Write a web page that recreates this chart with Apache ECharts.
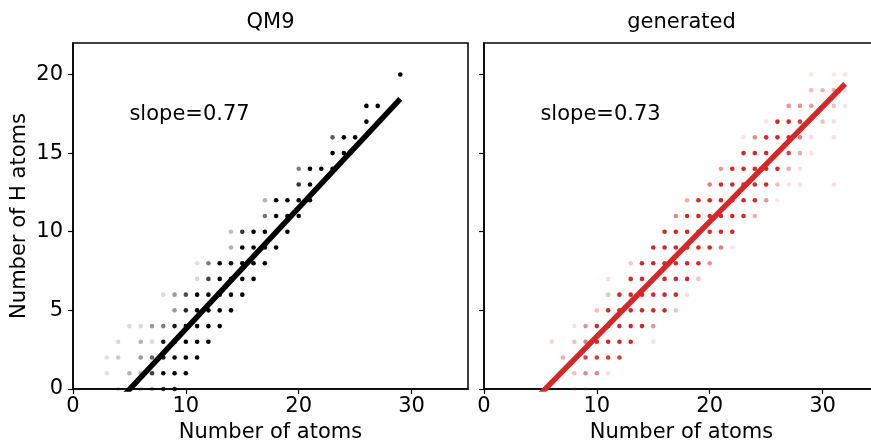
<!DOCTYPE html>
<html>
<head>
<meta charset="utf-8">
<script src="https://cdn.jsdelivr.net/npm/echarts@6/dist/echarts.min.js"></script>
<style>
html,body{margin:0;padding:0;background:#fff;}
#chart{width:871px;height:442px;}
</style>
</head>
<body>
<div id="chart"></div>
<script>
// ---------------- data ----------------
const panelTitles = ['QM9', 'generated'];
const xAxisTitle = 'Number of atoms';
const yAxisTitle = 'Number of H atoms';
const xTicks = [0, 10, 20, 30];
const yTicks = [0, 5, 10, 15, 20];

// [number of atoms, number of H atoms, density (alpha)]
const qm9Points = [
  [29,20,1],
  [26,18,1],[27,18,1],
  [26,17,1],
  [23,16,0.65],[24,16,1],[25,16,1],
  [23,15,1],[24,15,1],
  [20,14,0.5],[21,14,1],[22,14,1],[23,14,1],
  [20,13,0.8],[21,13,1],
  [17,12,0.3],[18,12,1],[19,12,1],[20,12,1],[21,12,1],
  [17,11,0.55],[18,11,1],[19,11,1],[20,11,1],
  [14,10,0.25],[15,10,0.8],[16,10,1],[17,10,1],[18,10,1],[19,10,1],
  [14,9,0.3],[15,9,1],[16,9,1],[17,9,1],[18,9,1],
  [11,8,0.12],[12,8,0.5],[13,8,1],[14,8,1],[15,8,1],[16,8,1],[17,8,1],
  [11,7,0.15],[12,7,0.75],[13,7,1],[14,7,1],[15,7,1],[16,7,1],
  [8,6,0.15],[9,6,0.4],[10,6,0.7],[11,6,1],[12,6,1],[13,6,1],[14,6,1],[15,6,1],
  [9,5,0.4],[10,5,0.85],[11,5,1],[12,5,1],[13,5,1],[14,5,1],
  [5,4,0.15],[6,4,0.15],[7,4,0.4],[8,4,0.5],[9,4,0.9],[10,4,1],[11,4,1],[12,4,1],[13,4,1],
  [4,3,0.15],[6,3,0.3],[7,3,0.15],[8,3,0.9],[9,3,1],[10,3,1],[11,3,1],[12,3,1],
  [3,2,0.12],[4,2,0.2],[6,2,0.4],[7,2,0.6],[8,2,0.9],[9,2,1],[10,2,1],[11,2,1],
  [3,1,0.12],[5,1,0.3],[6,1,0.25],[7,1,0.75],[8,1,1],[9,1,1],[10,1,1],
  [4,0,0.12],[6,0,0.15],[7,0,0.3],[8,0,0.8],[9,0,0.9]
];

const generatedPoints = [
  [29,20,0.12],[31,20,0.12],[32,20,0.12],
  [29,19,0.3],[30,19,0.35],[31,19,0.4],[32,19,0.12],
  [27,18,0.5],[28,18,0.5],[29,18,0.45],[31,18,0.3],[32,18,0.12],
  [25,17,0.12],[26,17,1],[27,17,1],[28,17,0.9],[30,17,0.3],[31,17,0.15],
  [23,16,0.12],[24,16,0.55],[25,16,1],[26,16,1],[27,16,1],[28,16,0.6],[29,16,0.15],[31,16,0.15],
  [23,15,1],[24,15,1],[25,15,1],[26,15,1],[27,15,0.9],[28,15,0.4],[29,15,0.15],
  [21,14,0.5],[22,14,1],[23,14,1],[24,14,1],[25,14,1],[26,14,1],[27,14,0.4],[28,14,0.15],
  [20,13,0.6],[21,13,1],[22,13,1],[23,13,1],[24,13,1],[25,13,1],[26,13,0.3],[27,13,0.15],[28,13,0.15],[31,13,0.15],
  [18,12,0.4],[19,12,1],[20,12,1],[21,12,1],[22,12,1],[23,12,1],[24,12,1],[25,12,0.5],[26,12,0.12],
  [17,11,0.55],[18,11,1],[19,11,1],[20,11,1],[21,11,1],[22,11,1],[23,11,1],[24,11,0.4],
  [16,10,1],[17,10,1],[18,10,1],[19,10,1],[20,10,1],[21,10,1],[22,10,1],
  [15,9,1],[16,9,1],[17,9,1],[18,9,1],[19,9,1],[20,9,1],[21,9,0.6],[22,9,0.12],
  [13,8,0.25],[14,8,1],[15,8,1],[16,8,1],[17,8,1],[18,8,1],[19,8,1],[20,8,0.5],
  [11,7,0.15],[13,7,1],[14,7,1],[15,7,1],[16,7,1],[17,7,1],[18,7,1],[19,7,0.3],
  [11,6,0.3],[12,6,1],[13,6,1],[14,6,1],[15,6,1],[16,6,1],[17,6,1],[18,6,0.15],
  [10,5,0.3],[11,5,1],[12,5,1],[13,5,1],[14,5,1],[15,5,1],[16,5,1],[17,5,0.3],
  [8,4,0.15],[9,4,0.5],[10,4,1],[11,4,1],[12,4,1],[13,4,1],[14,4,1],[15,4,0.5],
  [6,3,0.2],[8,3,0.3],[9,3,0.6],[10,3,1],[11,3,1],[12,3,1],[13,3,1],[15,3,0.15],
  [7,2,0.4],[9,2,0.9],[10,2,0.9],[11,2,0.9],[12,2,0.9],
  [8,1,0.3],[9,1,0.55],[10,1,0.55],[11,1,0.15],
  [8,0,0.15],[9,0,0.15]
];

// linear fits: slope, intercept, x range of fit line
const qm9Fit = {slope: 0.77, intercept: -3.88, xRange: [3, 29]};
const genFit = {slope: 0.73, intercept: -3.96, xRange: [5, 32]};
const slopeLabels = ['slope=0.77', 'slope=0.73'];
const slopeLabelAt = [5, 17.45];

// ---------------- chart ----------------
const FONT = 'DejaVu Sans';
const BLACK = '#000000';
const RED = '#d62728';

function fitLine(f) {
  return f.xRange.map(x => [x, f.slope * x + f.intercept]);
}
function pts(arr) {
  return arr.map(p => ({value: [p[0], p[1]], itemStyle: {opacity: p[2]}}));
}

const grids = [
  {left: 73, top: 43, width: 395, height: 346},
  {left: 484, top: 43, width: 395, height: 346}
];

function xAx(i) {
  return {
    type: 'value', gridIndex: i, min: 0, max: 35, interval: 10,
    name: xAxisTitle, nameLocation: 'middle', nameGap: 32,
    nameTextStyle: {fontFamily: FONT, fontSize: 21, color: '#000'},
    axisLine: {show: true, onZero: false, lineStyle: {color: '#000', width: 1.5}},
    axisTick: {show: true, inside: false, length: 5, lineStyle: {color: '#000', width: 1.2}, customValues: xTicks},
    axisLabel: {show: true, margin: 7, fontFamily: FONT, fontSize: 21, color: '#000', customValues: xTicks},
    splitLine: {show: false}
  };
}
function yAx(i) {
  return {
    type: 'value', gridIndex: i, min: 0, max: 22, interval: 5,
    name: i === 0 ? yAxisTitle : '', nameLocation: 'middle', nameGap: 43,
    nameTextStyle: {fontFamily: FONT, fontSize: 21, color: '#000'},
    axisLine: {show: true, onZero: false, lineStyle: {color: '#000', width: 1.5}},
    axisTick: {show: true, inside: false, length: 5, lineStyle: {color: '#000', width: 1.2}, customValues: yTicks},
    axisLabel: {show: i === 0, margin: 10, fontFamily: FONT, fontSize: 21, color: '#000', customValues: yTicks},
    splitLine: {show: false}
  };
}

function scatterSeries(i, arr, color) {
  return {
    type: 'scatter', xAxisIndex: i, yAxisIndex: i,
    data: pts(arr), symbol: 'circle', symbolSize: 4.6,
    itemStyle: {color: color}, silent: true, z: 2
  };
}
function lineSeries(i, f, color) {
  return {
    type: 'line', xAxisIndex: i, yAxisIndex: i, data: fitLine(f),
    symbol: 'none', lineStyle: {color: color, width: 5.5, cap: 'butt'},
    clip: true, silent: true, z: 3
  };
}

const chart = echarts.init(document.getElementById('chart'), null, {renderer: 'canvas'});
chart.setOption({
  animation: false,
  backgroundColor: '#ffffff',
  grid: grids.map(g => Object.assign({show: true, borderColor: '#000', borderWidth: 1.5,
    backgroundColor: 'transparent', containLabel: false, outerBoundsMode: 'none'}, g)),
  xAxis: [xAx(0), xAx(1)],
  yAxis: [yAx(0), yAx(1)],
  series: [
    scatterSeries(0, qm9Points, BLACK),
    lineSeries(0, qm9Fit, BLACK),
    scatterSeries(1, generatedPoints, RED),
    lineSeries(1, genFit, RED)
  ]
});

// titles and slope annotations (annotation placed through the axes' scales)
const graphics = [
  {type: 'text', x: 270.5, y: 23, style: {text: panelTitles[0], font: '21px "DejaVu Sans"', fill: '#000', textAlign: 'center', textVerticalAlign: 'middle'}},
  {type: 'text', x: 681.5, y: 23, style: {text: panelTitles[1], font: '21px "DejaVu Sans"', fill: '#000', textAlign: 'center', textVerticalAlign: 'middle'}}
];
[0, 1].forEach(i => {
  const p = chart.convertToPixel({xAxisIndex: i, yAxisIndex: i}, slopeLabelAt);
  graphics.push({type: 'text', x: p[0], y: p[1], z: 10,
    style: {text: slopeLabels[i], font: '21px "DejaVu Sans"', fill: '#000', textAlign: 'left', textVerticalAlign: 'middle'}});
});
chart.setOption({graphic: graphics});
</script>
</body>
</html>
